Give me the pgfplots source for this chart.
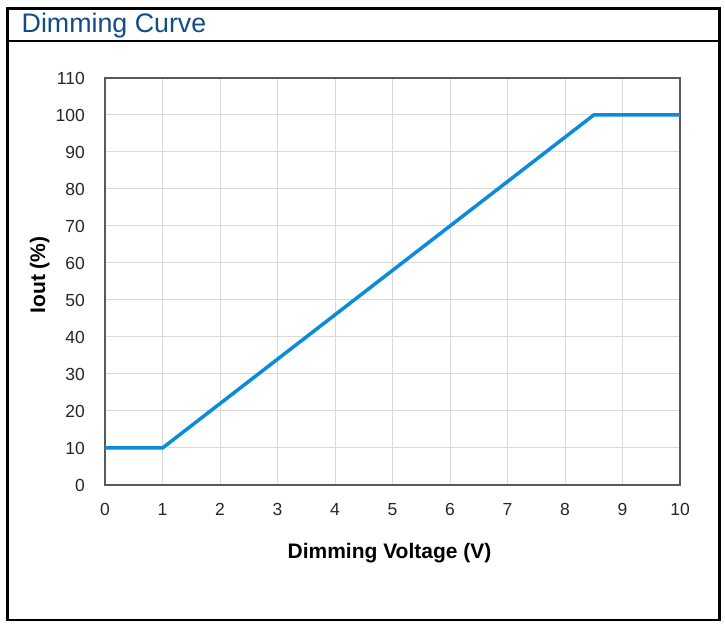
\documentclass[border=0pt]{standalone}
\usepackage{pgfplots}
\pgfplotsset{compat=1.18}
\usepackage{fontspec}
\setmainfont{Liberation Sans}
\definecolor{titleblue}{HTML}{124C84}
\definecolor{curve}{HTML}{0A8BDB}
\definecolor{gridgray}{HTML}{D9D9D9}
\definecolor{axisgray}{HTML}{595959}

\begin{document}
\begin{tikzpicture}
    % page size and outer frame (pixel units: y measured from the bottom)
    \path[use as bounding box] (0,0) rectangle (725bp,624bp);
    \draw[line width=2.5bp] (7.5bp,4bp) rectangle (719.5bp,615.5bp);
    \draw[line width=2bp] (7.5bp,583bp) -- (719.5bp,583bp);
    \node[anchor=base west, inner sep=0pt, text=titleblue,
          font=\fontsize{26.8bp}{30bp}\selectfont] at (21.5bp,591bp) {Dimming Curve};

    \begin{axis}[
        at={(105bp,139bp)}, anchor=south west,
        scale only axis,
        width=575bp, height=407bp,
        xmin=0, xmax=10,
        ymin=0, ymax=110,
        xtick={0,1,...,10},
        ytick={0,10,...,110},
        grid=major,
        grid style={gridgray, line width=1bp},
        tick style={draw=none},
        axis line style={axisgray, line width=1.2bp},
        /pgf/number format/assume math mode=true,
        tick label style={font=\fontsize{17.5bp}{20bp}\selectfont, text=black!85},
        xticklabel style={anchor=base, inner sep=0pt, yshift=-31bp},
        yticklabel style={anchor=east, inner sep=0pt, xshift=-20bp},
    ]
    \addplot[curve, line width=3.5bp, mark=none] coordinates {
        (0,10) (1,10) (8.5,100) (10,100)
    };
    \end{axis}

    % axis titles
    \node[anchor=base, inner sep=0pt, font=\fontsize{21bp}{24bp}\selectfont\bfseries]
        at (389.5bp,65bp) {Dimming Voltage (V)};
    \node[anchor=base, inner sep=0pt, rotate=90, font=\fontsize{21bp}{24bp}\selectfont\bfseries]
        at (45bp,349bp) {Iout (\%)};
\end{tikzpicture}
\end{document}
